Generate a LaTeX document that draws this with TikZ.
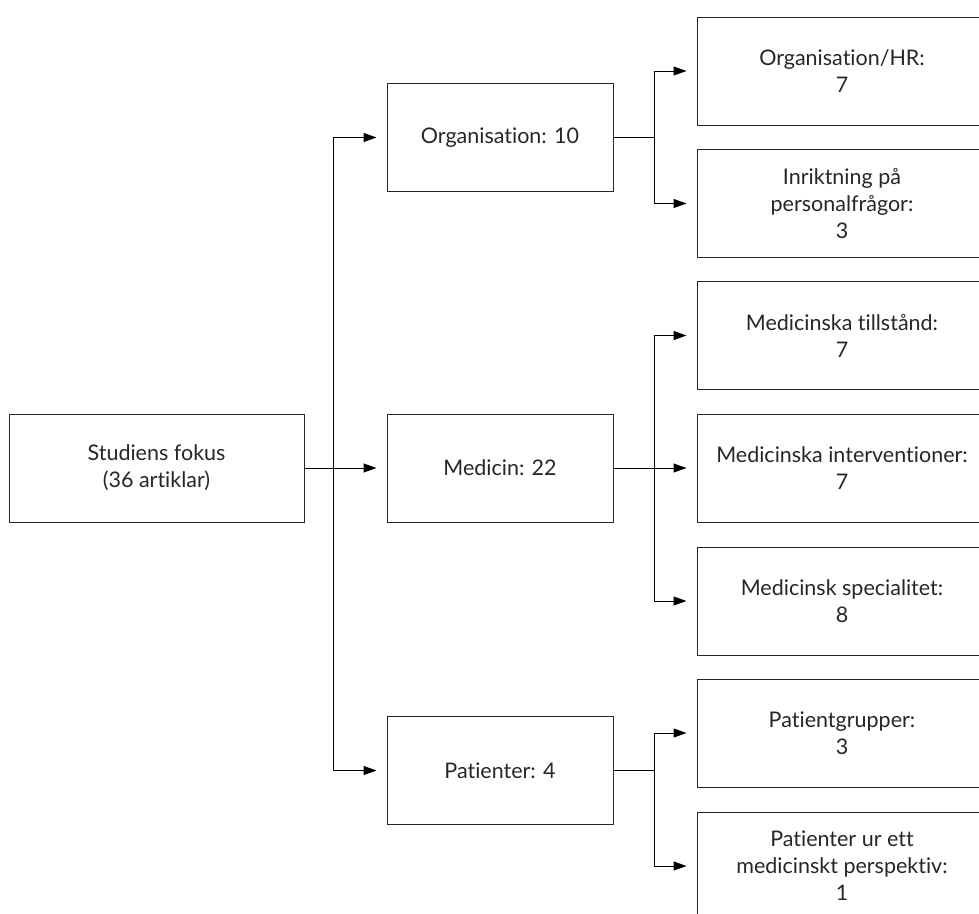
\documentclass[tikz,border=0pt]{standalone}
\usepackage{fontspec}
\setmainfont{Lato}[Ligatures={NoCommon}]
\usetikzlibrary{arrows.meta}
\begin{document}
\begin{tikzpicture}[x=1pt,y=-1pt,
  box/.style={draw=black!85, line width=1pt, rectangle, align=center,
    inner sep=0pt, font=\fontsize{21.5}{27}\selectfont\color{black!85}},
  rootbox/.style={box, minimum width=295pt, minimum height=108pt},
  midbox/.style={box, minimum width=226pt, minimum height=108pt},
  leafbox/.style={box, minimum width=290pt, minimum height=108pt},
  link/.style={line width=1pt, draw=black},
  arr/.style={link, -{Triangle[length=13pt,width=9pt]}, shorten >=10pt}]
\useasboundingbox (0,0) rectangle (979,913);
\clip (0,0) rectangle (979,913);

% first level
\node[rootbox] (root) at (156.5,468) {Studiens fokus\\(36 artiklar)};

% second level
\node[midbox] (org) at (500,137.5) {Organisation: 10};
\node[midbox] (med) at (500,468) {Medicin: 22};
\node[midbox] (pat) at (500,770.5) {Patienter: 4};

% third level
\node[leafbox] (hr)   at (842,71)  {Organisation/HR:\\7};
\node[leafbox] (pers) at (842,203.5) {Inriktning på\\personalfrågor:\\3};
\node[leafbox] (till) at (842,335.5) {Medicinska tillstånd:\\7};
\node[leafbox] (intv) at (842,468) {Medicinska interventioner:\\7};
\node[leafbox] (spec) at (842,601) {Medicinsk specialitet:\\8};
\node[leafbox] (grp)  at (842,733) {Patientgrupper:\\3};
\node[leafbox] (perp) at (842,866) {Patienter ur ett\\medicinskt perspektiv:\\1};

% trunk from the root
\coordinate (t) at (333,468);
\draw[arr] (root) -- (med);
\draw[arr] (t) |- (org.west);
\draw[arr] (t) |- (pat.west);

% branches to the third level
\coordinate (bo) at (654,137.5);
\coordinate (bm) at (654,468);
\coordinate (bp) at (654,770.5);
\draw[link] (org.east) -- (bo);
\draw[arr] (bo) |- (hr.west);
\draw[arr] (bo) |- (pers.west);
\draw[arr] (med) -- (intv);
\draw[arr] (bm) |- (till.west);
\draw[arr] (bm) |- (spec.west);
\draw[link] (pat.east) -- (bp);
\draw[arr] (bp) |- (grp.west);
\draw[arr] (bp) |- (perp.west);
\end{tikzpicture}
\end{document}
